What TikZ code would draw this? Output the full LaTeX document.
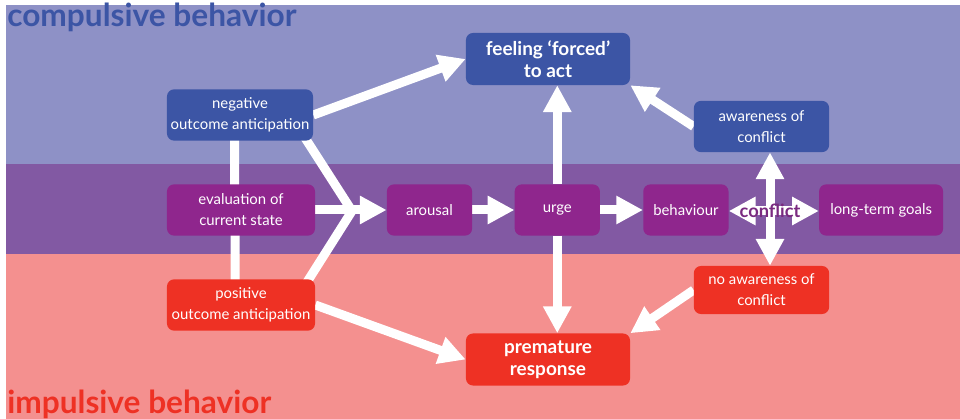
\documentclass[tikz,border=0pt]{standalone}
\usepackage{fontspec}
\setmainfont{Lato}
\usetikzlibrary{arrows.meta,positioning,backgrounds}
\definecolor{bandtop}{HTML}{8E91C6}
\definecolor{bandmid}{HTML}{8259A3}
\definecolor{bandlow}{HTML}{F4908F}
\definecolor{boxblue}{HTML}{3C55A5}
\definecolor{boxpurple}{HTML}{8F268D}
\definecolor{boxred}{HTML}{EE3124}
\definecolor{conflictpurple}{HTML}{7A2A80}

\begin{document}
\begin{tikzpicture}[x=0.025cm, y=-0.025cm,
  box/.style={rounded corners=5pt, minimum height=1.28cm, align=center, text=white, inner sep=2pt, font=\fontsize{10.6}{15}\selectfont},
  bluebox/.style={box, fill=boxblue},
  purplebox/.style={box, fill=boxpurple},
  redbox/.style={box, fill=boxred},
  bigbox/.style={minimum width=4.1cm, minimum height=1.3cm, font=\bfseries\fontsize{13.5}{15.5}\selectfont},
  arr/.style={-{Triangle[length=19pt, width=19pt]}, line width=6.4pt, white},
  dbl/.style={{Triangle[length=19pt, width=19pt]}-{Triangle[length=19pt, width=19pt]}, line width=6.4pt, white},
  link/.style={line width=6.4pt, white},
  heading/.style={font=\bfseries\fontsize{22.5}{26}\selectfont, inner sep=0pt}
]
  \useasboundingbox (0,0) rectangle (960,419);

  \node[heading, text=boxblue, anchor=base west] (compulsive) at (7,27) {compulsive behavior};
  \node[heading, text=boxred, anchor=base west] (impulsive) at (7,413) {impulsive behavior};

  \node[bluebox, minimum width=3.65cm] (neg) at (240,115) {negative\\outcome anticipation};
  \node[purplebox, minimum width=3.7cm] (eval) at (241,210) {evaluation of\\current state};
  \node[redbox, minimum width=3.7cm] (pos) at (241,305) {positive\\outcome anticipation};

  \node[purplebox, minimum width=2.13cm] (arousal) at (429.5,210) {arousal};
  \node[purplebox, minimum width=2.13cm, right=1.05cm of arousal] (urge) {urge};
  \node[purplebox, minimum width=2.13cm, right=1.07cm of urge] (behav) {behaviour};
  \node[purplebox, minimum width=3.1cm, right=2.25cm of behav] (goals) {long-term goals};

  \node[bluebox, minimum width=3.38cm] (aware) at (761.5,126.5) {awareness of\\conflict};
  \node[redbox, minimum width=3.38cm, minimum height=1.2cm] (noaware) at (761.5,290) {no awareness of\\conflict};

  \node[bluebox, bigbox] (forced) at (548,59) {feeling ‘forced’\\to act};
  \node[redbox, bigbox] (premature) at (548,359.5) {premature\\response};

  \node[font=\bfseries\fontsize{13}{14}\selectfont, text=conflictpurple, inner sep=1pt] (conflict) at (770,211) {conflict};
  \coordinate (merge) at (352,211);

  \begin{scope}[on background layer]
    \fill[bandtop] (6,5) rectangle (960,164);
    \fill[bandmid] (6,164) rectangle (960,254);
    \fill[bandlow] (6,254) rectangle (960,419);

    \draw[link] ([xshift=-4pt]neg.center) -- ([xshift=-4pt]pos.center);
    \draw[link] ([shift={(-9pt,7pt)}]neg.south east) -- (merge);
    \draw[link] ([shift={(-9pt,-7pt)}]pos.north east) -- (merge);
    \draw[arr] (eval) -- (eval -| arousal.west);
    \draw[arr] (neg.east) -- (forced.west);
    \draw[arr] (pos.east) -- (premature.west);
    \draw[arr] (arousal) -- (urge);
    \draw[arr] (urge) -- (behav);
    \draw[arr] (urge.north) -- (urge.north |- forced.south);
    \draw[arr] (urge.south) -- (urge.south |- premature.north);
    \draw[arr] (aware.west) -- (forced.south east);
    \draw[arr] (noaware.west) -- (premature.north east);
    \draw[dbl] (aware.south -| conflict) -- (noaware.north -| conflict);
    \draw[dbl] (behav.east |- conflict) -- (goals.west |- conflict);
  \end{scope}
\end{tikzpicture}
\end{document}
